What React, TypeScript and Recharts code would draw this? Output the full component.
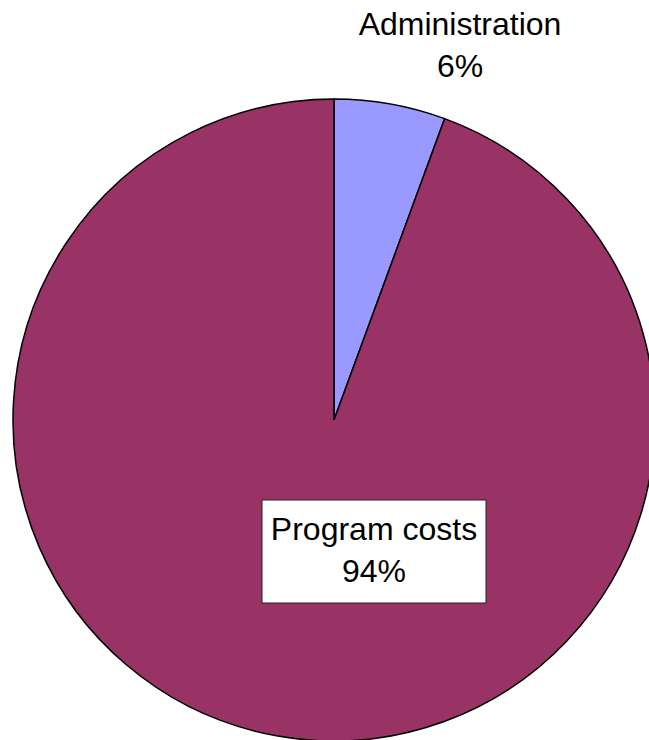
import React from 'react';
import { PieChart, Pie, Cell } from 'recharts';

const categories = ['Administration', 'Program costs'];
const shares = [5.6, 94.4];
const sliceColors = ['#9999FF', '#993366'];

const data = categories.map((name, i) => ({ name, value: shares[i] }));

const FONT = '"Liberation Sans", Arial, sans-serif';
const FONT_SIZE = 32;

// Admin label sits above the rim; the big slice gets a boxed label inside it
const renderLabel = (props: any) => {
  const { cx, cy, percent, name, index } = props;
  const pct = `${Math.round(percent * 100)}%`;
  if (index === 0) {
    const x = cx + 126;
    const y = cy - 385;
    return (
      <g>
        <text x={x} y={y} textAnchor="middle" fontFamily={FONT} fontSize={FONT_SIZE} fill="#000">{name}</text>
        <text x={x} y={y + 42} textAnchor="middle" fontFamily={FONT} fontSize={FONT_SIZE} fill="#000">{pct}</text>
      </g>
    );
  }
  const x = cx + 40;
  const y = cy + 120;
  return (
    <g>
      <rect x={x - 112} y={cy + 80} width={224} height={103} fill="#fff" stroke="#222" strokeWidth={1} />
      <text x={x} y={y} textAnchor="middle" fontFamily={FONT} fontSize={FONT_SIZE} fill="#000">{name}</text>
      <text x={x} y={y + 42} textAnchor="middle" fontFamily={FONT} fontSize={FONT_SIZE} fill="#000">{pct}</text>
    </g>
  );
};

export default function App() {
  return (
    <div style={{ position: 'absolute', left: 0, top: 0, width: 649, height: 740, background: '#fff', overflow: 'hidden' }}>
      <PieChart width={649} height={740} margin={{ top: 0, right: 0, bottom: 0, left: 0 }} style={{ overflow: 'visible' }}>
        <Pie
          data={data}
          dataKey="value"
          nameKey="name"
          cx={334}
          cy={420}
          outerRadius={321}
          startAngle={90}
          endAngle={-270}
          stroke="#000"
          strokeWidth={1.5}
          label={renderLabel}
          labelLine={false}
          isAnimationActive={false}
        >
          {data.map((entry, i) => (
            <Cell key={entry.name} fill={sliceColors[i]} />
          ))}
        </Pie>
      </PieChart>
    </div>
  );
}
